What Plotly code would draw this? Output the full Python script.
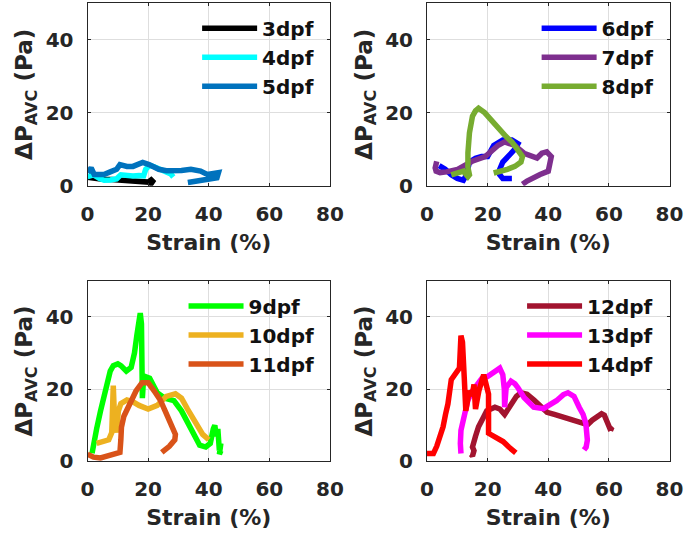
import plotly.graph_objects as go

# ---------------- data ----------------
names = ["3dpf", "4dpf", "5dpf", "6dpf", "7dpf", "8dpf",
         "9dpf", "10dpf", "11dpf", "12dpf", "13dpf", "14dpf"]
colors = ["#000000", "#00FFFF", "#0072BD", "#0000FF", "#7E2F8E", "#77AC30",
          "#00FF00", "#EDB120", "#D95319", "#A2142F", "#FF00FF", "#FF0000"]

x3 = [0, 2, 5, 8, 11, 14, 17, 19, 20, 21, 21.5, 21, 20.5]
y3 = [2.3, 2.0, 1.8, 1.7, 1.5, 1.4, 1.4, 1.3, 1.0, 1.6, 1.2, 0.6, 0.8]

x4 = [0, 2, 4, 5.5, 7.5, 9.6, 11, 13, 15, 17, 18.5, 19.2, 20.5, 22, 23.5, 25, 26.1, 27.5, 28.3]
y4 = [2.5, 3.0, 2.0, 1.5, 1.6, 1.9, 3.0, 2.8, 2.7, 2.8, 2.7, 4.5, 5.6, 5.2, 4.6, 3.8, 3.6, 3.2, 2.4]

x5 = [0.1, 1.2, 2.2, 4, 5.4, 7.5, 9.6, 10.7, 13, 15, 17, 18.2, 20.3, 22, 23.5, 26, 28.8, 31, 34.1,
      36, 37.3, 39.5, 41.5, 43.2, 42.7, 41, 39.5, 37, 34.1, 33.1]
y5 = [3.6, 4.9, 3.1, 3.0, 3.1, 3.8, 4.5, 5.8, 5.3, 5.3, 5.8, 6.4, 5.8, 5.0, 4.5, 4.1, 4.0, 4.2, 4.5,
      4.4, 4.0, 3.1, 3.2, 3.6, 2.2, 2.0, 1.8, 1.6, 1.3, 0.9]

x6 = [4, 6, 8, 10, 12, 13, 14, 16, 18, 20, 22, 25, 28, 30, 29, 27, 25, 24, 24, 25, 28]
y6 = [5.5, 4.5, 3, 2, 1.5, 3, 6.5, 7.5, 8, 8, 11, 12.5, 12.5, 11.5, 10, 8.5, 6.5, 4.5, 3, 2, 2]

x7 = [3.2, 2.7, 3, 4.3, 6.4, 10.1, 14.9, 19.2, 23.5, 25.6, 28.8, 32, 36.3, 37.9, 39.5, 41,
      40.5, 40, 37.3, 35, 33, 31.5]
y7 = [6.7, 4.9, 4.0, 3.6, 3.8, 4.5, 6.7, 8.0, 11.1, 12.0, 11.1, 8.9, 7.6, 8.9, 9.3, 8.0,
      6.0, 4.0, 3.1, 2.3, 1.3, 0.4]

x8 = [8, 10, 12, 13.5, 14, 13.5, 13.5, 14, 15, 16, 17, 19, 21, 23.5, 26, 28, 30, 31.5, 31,
      29, 26.5, 24, 22]
y8 = [3, 3.5, 4, 2.5, 3, 5, 9, 14.5, 19, 20.5, 21.2, 20, 18, 15.5, 13.5, 12, 10, 8, 6.5,
      5.3, 4.5, 4, 3.5]

x9 = [1.5, 2, 3, 4.3, 5.5, 6.5, 7.5, 8.5, 10, 11, 12.8, 14.4, 15.5, 16.3, 17, 17.4, 17.8, 18.1,
      18.5, 19, 20.5, 22, 23, 25.5, 28.5, 31, 33, 35, 37, 39, 40.5, 41.5, 42, 42.5, 43, 43.5,
      44, 43.5, 44]
y9 = [2.3, 5, 9, 14, 18, 21.5, 25, 26.5, 27, 26.5, 25, 26, 30, 35, 40, 41, 38, 17.5,
      23, 23.5, 23, 21, 19, 17.5, 16.8, 14, 11, 7.5, 4.5, 4, 5, 9, 10, 7, 9, 3,
      5, 2, 3]

x10 = [3, 5, 7, 8, 8.5, 9, 9.5, 10.2, 11, 13, 15, 17, 20, 23, 26, 29, 31, 33, 36, 38, 40]
y10 = [5, 5.5, 6, 8, 21, 10, 8, 14, 16, 17, 16.5, 15.5, 14.5, 15.5, 18, 18.7, 17.5, 14.5,
       10, 7.5, 6]

x11 = [0, 2, 4.3, 7, 10.7, 11, 11.2, 12, 13, 14.4, 16, 18, 20, 22.4, 24, 25.6, 27.5, 29,
       28.8, 27, 24.5]
y11 = [2, 1.2, 1.0, 1.6, 2.5, 6, 9.5, 12.5, 14.5, 16.5, 19.5, 21.8, 21.8, 19, 17, 14, 10,
       7.5, 6, 4.2, 2.5]

x12 = [14.5, 15, 15.5, 15, 16, 17, 18.5, 19.7, 22.4, 24, 25.6, 27.7, 29.5, 31, 33, 35.3, 37,
       39.6, 42, 45, 48, 51.4, 53, 54.5, 56, 57.6, 58.5, 59.2, 60.3, 61, 60.5]
y12 = [2, 1.5, 3, 4, 7, 9.6, 12, 14, 15, 14.5, 13, 16, 18, 19, 18.6, 17, 15.5,
       13.6, 13, 12.2, 11.5, 10.5, 10.2, 11.4, 12.5, 13.2, 12.8, 11, 9.2, 9.5, 8.5]

x13 = [11.2, 11, 11.2, 12.3, 13.5, 15, 17, 18.1, 20, 21.3, 23, 24, 25, 25.5, 25.6, 26.1, 27.7,
       29, 30, 32, 35.2, 38.4, 42.7, 45, 46.5, 48.5, 50.2, 51.5, 52.4, 52.9, 52.5, 51.8]
y13 = [2.2, 5, 8.6, 13.2, 17, 19.5, 21.5, 23, 23.5, 24.4, 25.5, 25.8, 24, 20, 15, 20.4, 22.2,
       21.5, 20.4, 17.7, 15, 14.6, 16.8, 18.5, 19, 18, 15, 13, 10.5, 5.9, 4, 3.2]

x14 = [0, 2.1, 3.2, 4.3, 5.3, 6.1, 6.9, 8, 9.6, 10.7, 11.2, 11.7, 12.3, 12.8, 13.4, 13.9,
       14.9, 15.5, 16, 16.5, 17.1, 18.7, 19.5, 20.3, 20.3, 22.4, 25.1, 27, 29.3]
y14 = [2.2, 2.2, 4.2, 6.5, 9.6, 13, 15.9, 22.6, 24.4, 25.8, 34.8, 33, 23, 14, 17, 19.5,
       18.2, 21.3, 14.5, 17, 19.5, 24, 21, 18.6, 7.8, 6.9, 5.5, 4, 2.4]

xs = [x3, x4, x5, x6, x7, x8, x9, x10, x11, x12, x13, x14]
ys = [y3, y4, y5, y6, y7, y8, y9, y10, y11, y12, y13, y14]

x_ticks = [0, 20, 40, 60, 80]
y_ticks = [0, 20, 40]
x_title = "Strain (%)"
y_title = "ΔP<sub>AVC</sub> (Pa)"

# ---------------- layout ----------------
W, H = 700, 539
FONT = "DejaVu Sans"
TXT = "#262626"

# panel boxes in pixels: (left, right, top, bottom)
boxes = [(83, 333, 3, 190), (433, 683, 3, 190), (83, 333, 287, 472), (433, 683, 287, 472)]
legend_px = [(196, 9), (546, 9), (182, 293), (531, 293)]

fig = go.Figure()
layout = dict(width=W, height=H, margin=dict(l=0, r=0, t=0, b=0),
              paper_bgcolor="white", plot_bgcolor="white", showlegend=True)

for p in range(4):
    l, r, t, b = boxes[p]
    sx = "" if p == 0 else str(p + 1)
    xa = dict(domain=[l / W, r / W], range=[0, 80], tickvals=x_ticks,
              showgrid=True, gridcolor="#dedede", gridwidth=1,
              showline=True, linecolor=TXT, linewidth=1, mirror="ticks",
              ticks="inside", ticklen=3, tickcolor=TXT, zeroline=False,
              ticklabelstandoff=10,
              tickfont=dict(family=FONT, size=20, color=TXT, weight="bold"),
              title=dict(text=x_title, standoff=9,
                         font=dict(family=FONT, size=22, color=TXT, weight="bold")),
              anchor="y" + sx, fixedrange=True)
    ya = dict(domain=[1 - b / H, 1 - t / H], range=[0, 50], tickvals=y_ticks,
              showgrid=True, gridcolor="#dedede", gridwidth=1,
              showline=True, linecolor=TXT, linewidth=1, mirror="ticks",
              ticks="inside", ticklen=3, tickcolor=TXT, zeroline=False,
              ticklabelstandoff=9,
              tickfont=dict(family=FONT, size=20, color=TXT, weight="bold"),
              title=dict(text=y_title, standoff=6,
                         font=dict(family=FONT, size=23, color=TXT, weight="bold")),
              anchor="x" + sx, fixedrange=True)
    layout["xaxis" + sx] = xa
    layout["yaxis" + sx] = ya
    lx, ly = legend_px[p]
    layout["legend" + sx] = dict(x=lx / W, y=1 - ly / H, xanchor="left", yanchor="top",
                                 bgcolor="rgba(0,0,0,0)", borderwidth=0,
                                 font=dict(family=FONT, size=20, color="#111111", weight="bold"),
                                 tracegroupgap=0, itemwidth=55)
    for k in range(3):
        i = p * 3 + k
        fig.add_trace(go.Scatter(x=xs[i], y=ys[i], mode="lines", name=names[i],
                                 line=dict(color=colors[i], width=5.5),
                                 xaxis="x" + sx, yaxis="y" + sx,
                                 legend="legend" + sx, hoverinfo="skip"))

fig.update_layout(**layout)
fig.write_html("out.html")
